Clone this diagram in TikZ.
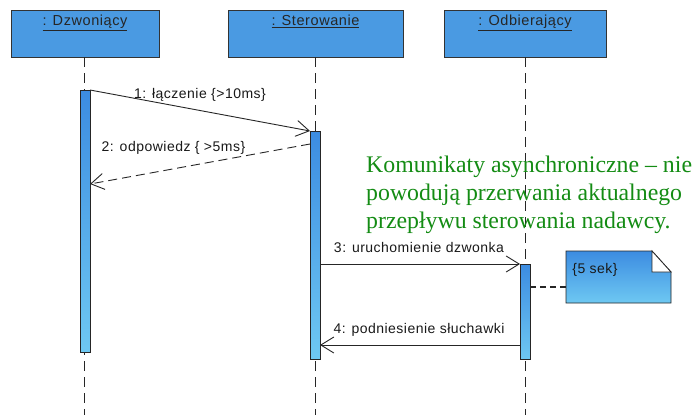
\documentclass[tikz,border=0pt]{standalone}
\usepackage{fontspec}
\setmainfont{Liberation Sans}
\newfontfamily\notefont{Liberation Serif}
\newfontfamily\diagfont[LetterSpace=3.5]{Liberation Sans}
\newfontfamily\headfont[LetterSpace=4]{Liberation Sans}
\usetikzlibrary{arrows.meta}
\definecolor{objblue}{RGB}{74,154,226}
\definecolor{acttop}{RGB}{60,140,225}
\definecolor{actbot}{RGB}{110,200,242}
\definecolor{notegreen}{RGB}{20,140,20}
\tikzset{
  objbox/.style={draw=black!80, line width=0.9pt, fill=objblue},
  objlabel/.style={font=\headfont\fontsize{14.5}{16}\selectfont, text=black!85, inner sep=0pt, anchor=base},
  lifeline/.style={draw=black!85, line width=0.9pt, dash pattern=on 10pt off 6pt},
  actbar/.style={draw=black!85, line width=0.8pt, top color=acttop, bottom color=actbot},
  msg/.style={draw=black!85, line width=0.9pt, -{Straight Barb[length=13pt,width=16pt,line width=0.9pt]}},
  reply/.style={msg, dash pattern=on 9pt off 5pt},
  msglabel/.style={font=\diagfont\fontsize{14}{16}\selectfont, text=black!90, inner sep=0pt, anchor=base},
  notebox/.style={draw=black!85, line width=0.8pt, top color=acttop, bottom color=actbot},
  remark/.style={font=\notefont\fontsize{23.8}{28}\selectfont, text=notegreen, align=left, inner sep=0pt, anchor=north west}
}
\begin{document}
\begin{tikzpicture}[x=1pt,y=-1pt]
\useasboundingbox (0,0) rectangle (698,415);
\fill[white] (0,0) rectangle (698,415);

% object headers
\draw[objbox] (11,10) rectangle (159,57);
\draw[objbox] (228,10) rectangle (403,57);
\draw[objbox] (444,10) rectangle (606,57);
\node[objlabel] (hA) at (85,25.5) {\underline{: Dzwoniący}};
\node[objlabel] (hB) at (315.5,25.5) {\underline{: Sterowanie}};
\node[objlabel] (hC) at (525,25.5) {\underline{: Odbierający}};

% lifelines
\coordinate (lA0) at (84.5,57);  \coordinate (lA1) at (84.5,415);
\coordinate (lB0) at (315,57);   \coordinate (lB1) at (315,415);
\coordinate (lC0) at (525,57);   \coordinate (lC1) at (525,415);
\draw[lifeline] (lA0) -- (lA1);
\draw[lifeline] (lB0) -- (lB1);
\draw[lifeline] (lC0) -- (lC1);

% activation bars
\draw[actbar] (80,90) rectangle (90,352);
\draw[actbar] (310,131) rectangle (320,359);
\draw[actbar] (520,264) rectangle (530,359);

% messages
\coordinate (m1a) at (90,90);   \coordinate (m1b) at (310,131);
\coordinate (m2a) at (310,144); \coordinate (m2b) at (90,184);
\coordinate (m3a) at (320,264); \coordinate (m3b) at (520,264);
\coordinate (m4a) at (520,345); \coordinate (m4b) at (320,345);
\draw[msg] (m1a) -- (m1b);
\draw[reply] (m2a) -- (m2b);
\draw[msg] (m3a) -- (m3b);
\draw[msg] (m4a) -- (m4b);
\node[msglabel] (t1) at (200,98) {1: łączenie \{>10ms\}};
\node[msglabel] (t2) at (173.5,151) {2: odpowiedz \{ >5ms\}};
\node[msglabel] (t3) at (419,252) {3: uruchomienie dzwonka};
\node[msglabel] (t4) at (419,333) {4: podniesienie słuchawki};

% constraint note
\draw[notebox] (566,251) -- (652,251) -- (671,272) -- (671,303) -- (566,303) -- cycle;
\draw[black!85, line width=0.8pt, fill=white] (652,251) -- (652,272) -- (671,272) -- cycle;
\node[msglabel] (nt) at (595,273) {\{5 sek\}};
\coordinate (nA) at (530,287); \coordinate (nB) at (566,287);
\draw[black!85, line width=1.6pt, dash pattern=on 6pt off 4pt] (nA) -- (nB);

% remark
\node[remark] (rem) at (366,156) {Komunikaty asynchroniczne – nie\\powodują przerwania aktualnego\\przepływu sterowania nadawcy.};
\end{tikzpicture}
\end{document}
